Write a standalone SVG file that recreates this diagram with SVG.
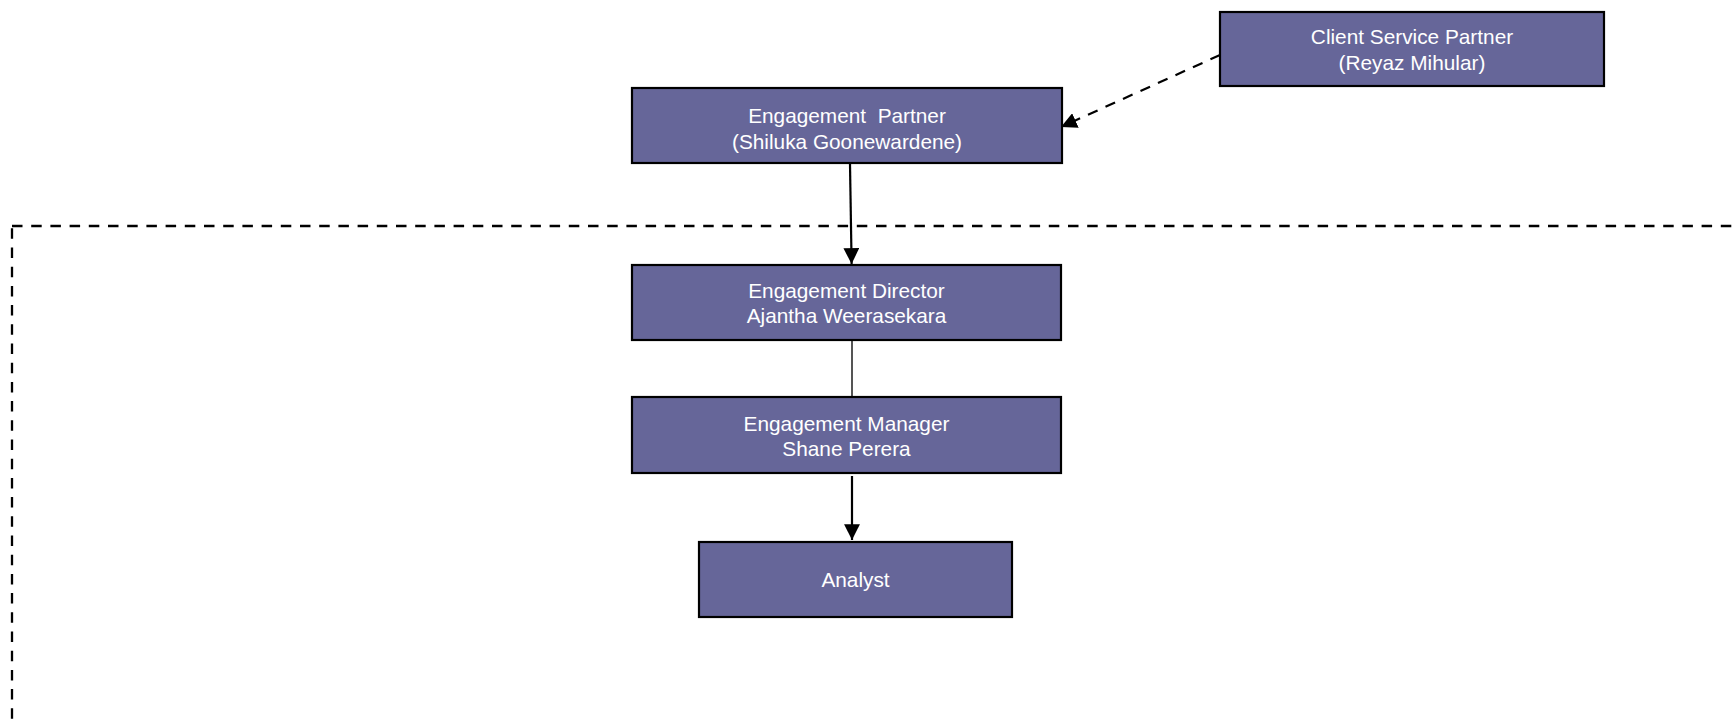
<svg xmlns="http://www.w3.org/2000/svg" width="1732" height="726" viewBox="0 0 1732 726">
<style>
.box{fill:#666699;stroke:#000;stroke-width:2.2}
.lbl{font-family:"Liberation Sans",Arial,sans-serif;font-size:20.8px;fill:#fff;text-anchor:middle}
.conn{fill:none;stroke:#000;stroke-width:2.2}
.dash{stroke-dasharray:10.5 8.7}
</style>
<defs>
<marker id="arr" viewBox="0 0 10 10" refX="10" refY="5" markerWidth="7.2" markerHeight="7.2" markerUnits="strokeWidth" orient="auto">
<path d="M0,0 L10,5 L0,10 z" fill="#000"/>
</marker>
</defs>
<rect x="12" y="226" width="1760" height="560" fill="none" stroke="#000" stroke-width="2.3" stroke-dasharray="10.5 8.7"/>
<g id="connectors">
<line class="conn dash" x1="1220" y1="55" x2="1061" y2="127" marker-end="url(#arr)"/>
<line class="conn" x1="850" y1="164" x2="851.6" y2="264" marker-end="url(#arr)"/>
<line x1="852" y1="341" x2="852" y2="397" stroke="#555" stroke-width="2"/>
<line class="conn" x1="852" y1="476" x2="852" y2="540" marker-end="url(#arr)"/>
</g>
<g id="client-service-partner">
<rect class="box" x="1220" y="12" width="384" height="74"/>
<text class="lbl" x="1412" y="44">Client Service Partner</text>
<text class="lbl" x="1412" y="70">(Reyaz Mihular)</text>
</g>
<g id="engagement-partner">
<rect class="box" x="632" y="88" width="430" height="75"/>
<text class="lbl" x="847" y="123" xml:space="preserve">Engagement  Partner</text>
<text class="lbl" x="847" y="149">(Shiluka Goonewardene)</text>
</g>
<g id="engagement-director">
<rect class="box" x="632" y="265" width="429" height="75"/>
<text class="lbl" x="846.5" y="298">Engagement Director</text>
<text class="lbl" x="846.5" y="323">Ajantha Weerasekara</text>
</g>
<g id="engagement-manager">
<rect class="box" x="632" y="397" width="429" height="76"/>
<text class="lbl" x="846.5" y="431">Engagement Manager</text>
<text class="lbl" x="846.5" y="456">Shane Perera</text>
</g>
<g id="analyst">
<rect class="box" x="699" y="542" width="313" height="75"/>
<text class="lbl" x="855.5" y="587">Analyst</text>
</g>
</svg>
